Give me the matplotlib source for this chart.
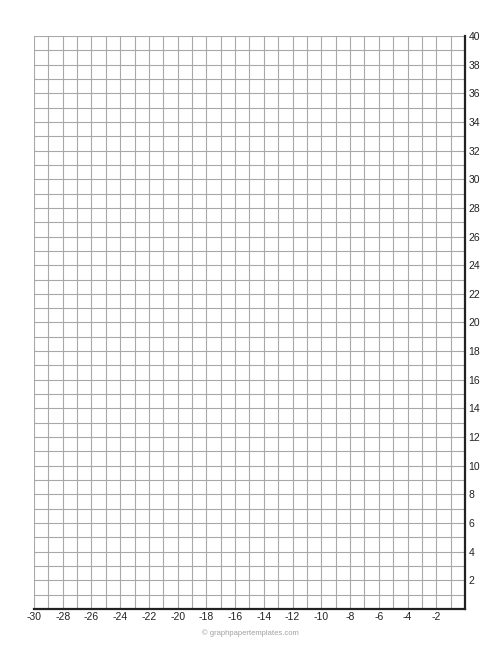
import numpy as np
import matplotlib.pyplot as plt

plt.rcParams['font.family'] = ['Liberation Sans', 'DejaVu Sans']

# axis ranges and labelled ticks
x_range = [-30, 0]
y_range = [0, 40]
x_ticks = [-30, -28, -26, -24, -22, -20, -18, -16, -14, -12, -10, -8, -6, -4, -2]
y_ticks = [2, 4, 6, 8, 10, 12, 14, 16, 18, 20, 22, 24, 26, 28, 30, 32, 34, 36, 38, 40]
footer = "\u00a9 graphpapertemplates.com"

fig = plt.figure(figsize=(5, 6.47), dpi=100)
ax = fig.add_axes([0.068, 0.0587, 0.862, 0.8857])
ax.set_xlim(x_range)
ax.set_ylim(y_range)

# grid every unit
for v in np.arange(x_range[0], x_range[1] + 1):
    ax.axvline(v, color='#a8a8a8', lw=0.8, zorder=1)
for v in np.arange(y_range[0], y_range[1] + 1):
    ax.axhline(v, color='#a8a8a8', lw=0.8, zorder=1)

for s in ['top', 'left']:
    ax.spines[s].set_visible(False)
for s in ['bottom', 'right']:
    ax.spines[s].set_color('#222222')
    ax.spines[s].set_linewidth(1.6)
    ax.spines[s].set_zorder(3)

ax.set_xticks(x_ticks)
ax.set_xticklabels([str(t) for t in x_ticks])
ax.set_yticks(y_ticks)
ax.set_yticklabels([str(t) for t in y_ticks])
ax.yaxis.tick_right()
ax.tick_params(axis='both', length=0, labelsize=7.5, colors='#222222')
ax.tick_params(axis='x', pad=2.5)
ax.tick_params(axis='y', pad=2.5)

fig.text(0.5, 1 - 633 / 647, footer, ha='center', va='center',
         fontsize=5.5, color='#a0a0a0')

fig.savefig('out.png', dpi=100)
